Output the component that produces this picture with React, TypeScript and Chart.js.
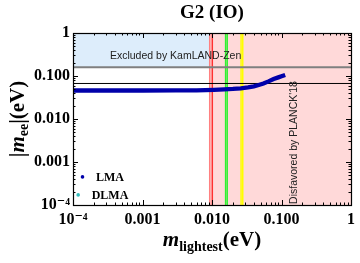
import React, { useEffect, useRef } from "react";
import { Chart, registerables } from "chart.js";

Chart.register(...registerables);

// ---- data ----
const axisMin = 1e-4;
const axisMax = 1;
const majorTickValues = [1e-4, 1e-3, 1e-2, 1e-1, 1];
const majorTickLabels = ["10⁻⁴", "0.001", "0.010", "0.100", "1"];

// LMA band (m_lightest, |m_ee|)
const lmaX = [0.0001, 0.0003, 0.001, 0.003, 0.006, 0.0107, 0.015, 0.02, 0.026, 0.033, 0.04, 0.047, 0.055, 0.065, 0.077, 0.09, 0.1, 0.113];
const lmaY = [0.046, 0.046, 0.046, 0.0462, 0.0465, 0.0476, 0.0488, 0.0500, 0.0518, 0.0545, 0.0575, 0.0618, 0.067, 0.075, 0.085, 0.093, 0.099, 0.106];
// DLMA (no points visible in plot)
const dlmaX: number[] = [];
const dlmaY: number[] = [];

// limits
const kamlandLimit = 0.16; // Excluded by KamLAND-Zen (above)
const kamlandRegionXTo = 0.00906;
const secondLimit = 0.067; // black line
const planckXFrom = 0.00906; // Disfavored by PLANCK'18 (right)

// vertical lines
const redLinesX = [0.00927, 0.0101];
const greenLinesX = [0.0157, 0.01655];
const yellowLinesX = [0.0262, 0.0277];

const SERIF = "'Liberation Serif', 'DejaVu Serif', serif";
const SANS = "'Liberation Sans', Arial, sans-serif";

const vline = (x: number, color: string) => ({
  label: "",
  data: [
    { x, y: axisMin },
    { x, y: axisMax },
  ],
  borderColor: color,
  borderWidth: 1.5,
  pointRadius: 0,
  showLine: true,
});

const hline = (y: number, color: string, w: number) => ({
  label: "",
  data: [
    { x: axisMin, y },
    { x: axisMax, y },
  ],
  borderColor: color,
  borderWidth: w,
  pointRadius: 0,
  showLine: true,
});

const minorValues = () => {
  const out: number[] = [];
  for (let e = -4; e < 0; e++) {
    for (let k = 2; k <= 9; k++) out.push(k * Math.pow(10, e));
  }
  return out;
};

const decorPlugin = {
  id: "decor",
  beforeDatasetsDraw(chart: any) {
    const { ctx, chartArea: a, scales } = chart;
    const x = scales.x;
    const y = scales.y;
    ctx.save();
    // PLANCK disfavored region
    const px0 = x.getPixelForValue(planckXFrom);
    ctx.fillStyle = "#FFD9D9";
    ctx.fillRect(px0, a.top, a.right - px0, a.bottom - a.top);
    // KamLAND excluded region
    const kx1 = x.getPixelForValue(kamlandRegionXTo);
    const ky = y.getPixelForValue(kamlandLimit);
    ctx.fillStyle = "#DDEDFB";
    ctx.fillRect(a.left, a.top, kx1 - a.left, ky - a.top);
    ctx.restore();
  },
  afterDatasetsDraw(chart: any) {
    const { ctx, chartArea: a, scales } = chart;
    const x = scales.x;
    const y = scales.y;
    ctx.save();
    ctx.strokeStyle = "#000";
    ctx.lineWidth = 1;
    ctx.beginPath();
    const minors = minorValues();
    const tick = (v: number, len: number) => {
      const px = Math.round(x.getPixelForValue(v)) + 0.5;
      ctx.moveTo(px, a.bottom);
      ctx.lineTo(px, a.bottom - len);
      ctx.moveTo(px, a.top);
      ctx.lineTo(px, a.top + len);
      const py = Math.round(y.getPixelForValue(v)) + 0.5;
      ctx.moveTo(a.left, py);
      ctx.lineTo(a.left + len, py);
      ctx.moveTo(a.right, py);
      ctx.lineTo(a.right - len, py);
    };
    majorTickValues.forEach((v) => tick(v, 5));
    minors.forEach((v) => tick(v, 2.5));
    ctx.stroke();
    ctx.lineWidth = 1.2;
    ctx.strokeRect(Math.round(a.left) + 0.5, Math.round(a.top) + 0.5, Math.round(a.right - a.left), Math.round(a.bottom - a.top));
    ctx.restore();
  },
  afterDraw(chart: any) {
    const { ctx, chartArea: a, scales } = chart;
    const x = scales.x;
    const y = scales.y;
    ctx.save();
    ctx.fillStyle = "#000";

    const mainB = `bold 21px ${SERIF}`;
    const mainBI = `italic bold 21px ${SERIF}`;
    const subB = `bold 14px ${SERIF}`;
    const drawRich = (parts: { t: string; f: string; dy: number }[], cx: number, cy: number, rot: boolean) => {
      let total = 0;
      parts.forEach((p) => {
        ctx.font = p.f;
        total += ctx.measureText(p.t).width;
      });
      ctx.save();
      ctx.translate(cx, cy);
      if (rot) ctx.rotate(-Math.PI / 2);
      ctx.textBaseline = "alphabetic";
      ctx.textAlign = "left";
      let cur = -total / 2;
      parts.forEach((p) => {
        ctx.font = p.f;
        ctx.fillText(p.t, cur, p.dy);
        cur += ctx.measureText(p.t).width;
      });
      ctx.restore();
    };
    // x axis title
    drawRich(
      [
        { t: "m", f: mainBI, dy: 0 },
        { t: "lightest", f: subB, dy: 5 },
        { t: "(eV)", f: mainB, dy: 0 },
      ],
      (a.left + a.right) / 2,
      246,
      false
    );
    // y axis title
    drawRich(
      [
        { t: "|", f: mainB, dy: 0 },
        { t: "m", f: mainBI, dy: 0 },
        { t: "ee", f: subB, dy: 4 },
        { t: "|(eV)", f: mainB, dy: 0 },
      ],
      24,
      (a.top + a.bottom) / 2,
      true
    );

    // region labels
    ctx.font = `10.5px ${SANS}`;
    ctx.fillStyle = "#222";
    ctx.textBaseline = "middle";
    ctx.textAlign = "left";
    ctx.fillText("Excluded by KamLAND-Zen", x.getPixelForValue(3.4e-4), y.getPixelForValue(0.296));
    ctx.save();
    ctx.translate(x.getPixelForValue(0.15), y.getPixelForValue(0.00284));
    ctx.rotate(-Math.PI / 2);
    ctx.textAlign = "center";
    ctx.fillText("Disfavored by PLANCK'18", 0, 0);
    ctx.restore();

    // legend
    const entries = chart.data.datasets.filter((d: any) => d.legendEntry);
    ctx.font = `bold 12px ${SERIF}`;
    ctx.textBaseline = "middle";
    entries.forEach((d: any, i: number) => {
      const cy = y.getPixelForValue(0.00045) + i * 18;
      const w = ctx.measureText(d.label).width;
      const tx = 110 - w / 2;
      ctx.fillStyle = "#000";
      ctx.textAlign = "left";
      ctx.fillText(d.label, tx, cy + 1);
      ctx.fillStyle = d.borderColor;
      ctx.beginPath();
      ctx.arc(tx - 13.5, cy, 1.8, 0, Math.PI * 2);
      ctx.fill();
    });
    ctx.restore();
  },
};

export default function App() {
  const ref = useRef<HTMLCanvasElement>(null);
  useEffect(() => {
    if (!ref.current) return;
    const datasets: any[] = [
      {
        label: "LMA",
        legendEntry: true,
        data: lmaX.map((v, i) => ({ x: v, y: lmaY[i] })),
        borderColor: "#0000AA",
        backgroundColor: "#0000AA",
        borderWidth: 4.3,
        borderCapStyle: "butt",
        pointRadius: 0,
        showLine: true,
      },
      {
        label: "DLMA",
        legendEntry: true,
        data: dlmaX.map((v, i) => ({ x: v, y: dlmaY[i] })),
        borderColor: "#33BBBB",
        backgroundColor: "#33BBBB",
        pointRadius: 2,
        showLine: false,
      },
      hline(secondLimit, "#000000", 1),
      hline(kamlandLimit, "#7F7F7F", 2),
      vline(redLinesX[0], "#FF8080"),
      vline(redLinesX[1], "#FF3030"),
      vline(greenLinesX[0], "#30F030"),
      vline(greenLinesX[1], "#30F030"),
      vline(yellowLinesX[0], "#FFFF00"),
      vline(yellowLinesX[1], "#FFFF00"),
    ];
    const tickFont = { family: SERIF, weight: "bold" as const, size: 16 };
    const chart = new Chart(ref.current, {
      type: "scatter",
      data: { datasets },
      plugins: [decorPlugin],
      options: {
        animation: false,
        responsive: false,
        layout: { padding: { left: 0, right: 7, top: 0, bottom: 0 } },
        plugins: {
          legend: { display: false },
          tooltip: { enabled: false },
          title: {
            display: true,
            text: "G2 (IO)",
            fullSize: false,
            color: "#000",
            font: { family: SERIF, weight: "bold", size: 19 },
            padding: { top: 2, bottom: 8.2 },
          },
        },
        scales: {
          x: {
            type: "logarithmic",
            position: "bottom",
            min: axisMin,
            max: axisMax,
            grid: { display: false, drawTicks: false },
            border: { display: false },
            afterBuildTicks: (s: any) => {
              s.ticks = majorTickValues.map((v) => ({ value: v }));
            },
            afterFit: (s: any) => {
              s.height = 58;
            },
            ticks: {
              autoSkip: false,
              maxRotation: 0,
              color: "#000",
              padding: 5,
              font: tickFont,
              callback: (_v: any, i: number) => majorTickLabels[i],
            },
          },
          y: {
            type: "logarithmic",
            position: "left",
            min: axisMin,
            max: axisMax,
            grid: { display: false, drawTicks: false },
            border: { display: false },
            afterBuildTicks: (s: any) => {
              s.ticks = majorTickValues.map((v) => ({ value: v }));
            },
            afterFit: (s: any) => {
              s.width = 73;
            },
            ticks: {
              autoSkip: false,
              color: "#000",
              padding: 3,
              font: tickFont,
              callback: (_v: any, i: number) => majorTickLabels[i],
            },
          },
        },
      } as any,
    });
    return () => chart.destroy();
  }, []);
  return (
    <div style={{ position: "absolute", left: 0, top: 0, width: 360, height: 263, background: "#fff" }}>
      <canvas ref={ref} width={360} height={263} style={{ width: 360, height: 263 }} />
    </div>
  );
}
